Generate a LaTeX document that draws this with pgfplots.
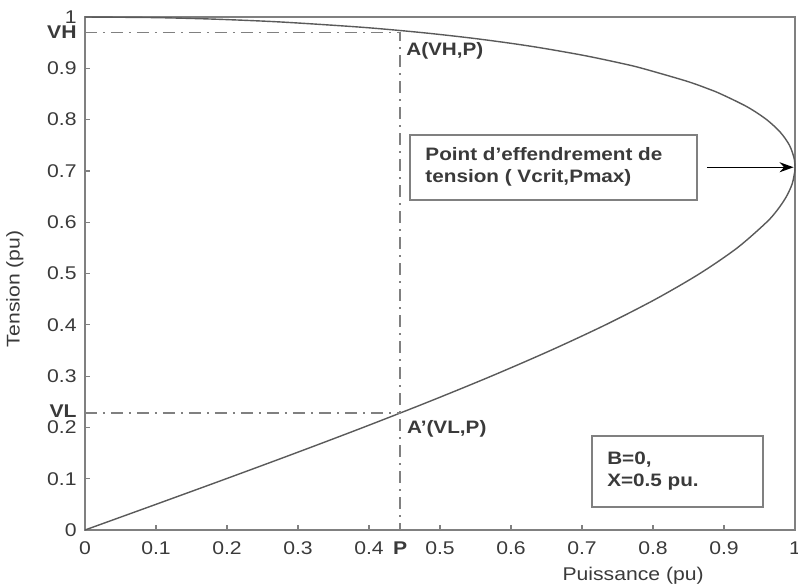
\documentclass[border=0pt]{standalone}
\usepackage{pgfplots}
\pgfplotsset{compat=1.18}
\usepackage{fontspec}
\setmainfont[FakeStretch=1.15]{Liberation Sans}
\usetikzlibrary{calc,arrows.meta}
\definecolor{txt}{HTML}{3A3A3A}
\definecolor{axl}{HTML}{808080}
\definecolor{crv}{HTML}{5A5A5A}
\begin{document}
\fontsize{9}{11}\selectfont
\begin{tikzpicture}
\begin{axis}[
  scale only axis, width=355pt, height=256.5pt,
  xmin=0, xmax=1, ymin=0, ymax=1,
  xtick distance=0.1, ytick distance=0.1,
  tick pos=left, tick align=inside,
  major tick length=2.5pt,
  axis line style={axl, line width=0.7pt},
  every tick/.style={axl, line width=0.6pt},
  tick label style={text=txt, font=\fontsize{9.2}{11}\selectfont, inner sep=0.5pt},
  /pgf/number format/assume math mode=true,
  xticklabel style={yshift=-5pt},
  yticklabel style={xshift=-3.5pt},
  extra x ticks={0.444}, extra x tick labels={\textbf{P}},
  extra y ticks={0.97,0.228}, extra y tick labels={\textbf{VH},\raisebox{1.5pt}{\textbf{VL}}},
  extra tick style={major tick length=0pt},
  xlabel={Puissance (pu)}, ylabel={Tension (pu)},
  xlabel style={at={(axis description cs:0.772,-0.0897)}, anchor=center, text=txt, font=\fontsize{9.2}{11}\selectfont},
  ylabel style={at={(axis description cs:-0.0986,0.47)}, anchor=center, text=txt, font=\fontsize{9.2}{11}\selectfont},
  clip=false,
]
\addplot[crv, line width=0.7pt, smooth] coordinates {
(0,0) (0.0999,0.05) (0.1990,0.1) (0.2966,0.15) (0.3919,0.2) (0.4841,0.25)
(0.5724,0.3) (0.6557,0.35) (0.7332,0.4) (0.8037,0.45) (0.8660,0.5) (0.9187,0.55)
(0.96,0.6) (0.9758,0.625) (0.9879,0.65) (0.9961,0.675) (0.9998,0.7) (1.0,0.7071)
(0.9987,0.725) (0.9922,0.75) (0.9795,0.775) (0.96,0.8) (0.9325,0.825) (0.8955,0.85)
(0.8777,0.86) (0.8472,0.875) (0.7846,0.9) (0.7546,0.91) (0.7029,0.925) (0.6414,0.94)
(0.5933,0.95) (0.5376,0.96) (0.4716,0.97) (0.3900,0.98) (0.2793,0.99) (0.1987,0.995)
(0.1410,0.9975) (0.0893,0.999) (0,1)
};
\addplot[axl, line width=0.75pt, dash pattern=on 6pt off 3pt on 1pt off 3pt] coordinates {(0,0.97) (0.444,0.97) (0.444,0)};
\addplot[axl, line width=0.75pt, dash pattern=on 6pt off 3pt on 1pt off 3pt] coordinates {(0,0.228) (0.444,0.228)};
\node[anchor=north west, inner sep=0pt, text=txt, font=\bfseries] at (axis cs:0.452,0.952) {A(VH,P)};
\node[anchor=north west, inner sep=0pt, text=txt, font=\bfseries] at (axis cs:0.453,0.214) {A'(VL,P)};
\draw[axl, line width=0.7pt] (axis cs:0.458,0.643) rectangle (axis cs:0.862,0.770);
\node[anchor=west, align=left, inner sep=0pt, text=txt, font=\bfseries] at (axis cs:0.479,0.707) {Point d'effendrement de\\tension ( Vcrit,Pmax)};
\draw[axl, line width=0.7pt] (axis cs:0.714,0.045) rectangle (axis cs:0.955,0.183);
\node[anchor=west, align=left, inner sep=0pt, text=txt, font=\bfseries] at (axis cs:0.735,0.114) {B=0,\\X=0.5 pu.};
\draw[black, line width=0.7pt, -{Stealth[length=7pt,width=5pt]}] (axis cs:0.876,0.7071) -- (axis cs:0.998,0.7071);
\end{axis}
\pgfresetboundingbox
\path ($(current axis.south west)+(-42.5pt,-27.5pt)$) rectangle ($(current axis.north east)+(1.5pt,8.5pt)$);
\end{tikzpicture}
\end{document}
